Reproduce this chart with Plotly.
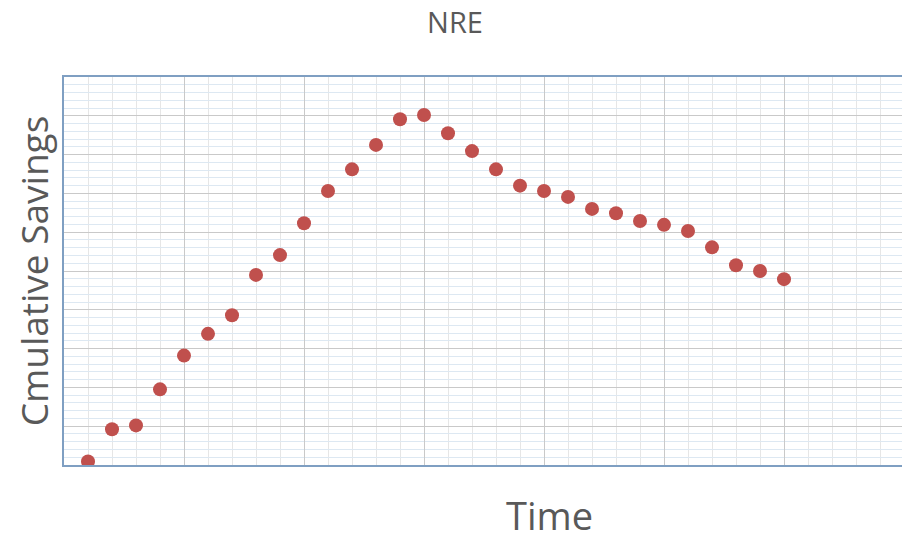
import plotly.graph_objects as go

time_idx = list(range(1, 31))
savings = [0.09, 0.92, 1.02, 1.95, 2.82, 3.38, 3.86, 4.90, 5.41, 6.23,
           7.06, 7.62, 8.25, 8.91, 9.02, 8.55, 8.09, 7.62, 7.20, 7.06,
           6.91, 6.60, 6.49, 6.29, 6.19, 6.03, 5.61, 5.15, 5.00, 4.79]

chart_title = "NRE"
x_title = "Time"
y_title = "Cmulative Savings"

fig = go.Figure()
fig.add_trace(go.Scatter(
    x=time_idx, y=savings, mode="markers",
    marker=dict(color="#c0504d", size=14, line=dict(width=0)),
    showlegend=False,
))

font_family = "Open Sans, sans-serif"
fig.update_layout(
    width=902, height=527,
    margin=dict(l=56, r=4, t=69, b=70),
    paper_bgcolor="white", plot_bgcolor="white",
    title=dict(text=chart_title, x=0.5 - 4 / 902, xanchor="center", y=0.971, yanchor="middle",
               font=dict(family=font_family, size=29, color="#595959")),
    font=dict(family=font_family, color="#595959"),
    annotations=[dict(
        text=x_title, xref="paper", yref="paper", x=0.578, y=0,
        xanchor="center", yanchor="middle", yshift=-50, showarrow=False,
        font=dict(family=font_family, size=38, color="#595959"),
    )],
)
fig.update_xaxes(
    range=[0, 35], dtick=5, tick0=0, showticklabels=False, ticks="",
    showgrid=True, gridcolor="#c9c9c9", gridwidth=1,
    minor=dict(dtick=1, showgrid=True, gridcolor="#e6e6e6", gridwidth=1),
    showline=True, mirror=True, linecolor="#7f9fc2", linewidth=2,
    zeroline=False,
)
fig.update_yaxes(
    range=[0, 10], dtick=1, tick0=0, showticklabels=False, ticks="",
    showgrid=True, gridcolor="#c9c9c9", gridwidth=1,
    minor=dict(dtick=0.2, showgrid=True, gridcolor="#dde8f2", gridwidth=1),
    showline=True, mirror=True, linecolor="#7f9fc2", linewidth=2,
    zeroline=False,
    title=dict(text=y_title, font=dict(size=37, color="#595959"), standoff=10),
)

fig.write_html("out.html")
